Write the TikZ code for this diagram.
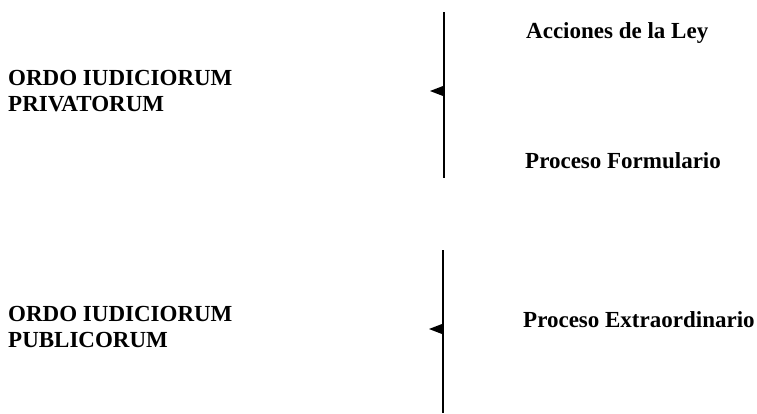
\documentclass[tikz,border=0pt]{standalone}
\usepackage{fontspec}
\setmainfont{Liberation Serif}
\begin{document}
\begin{tikzpicture}[x=1pt,y=-1pt,
  lbl/.style={font=\fontsize{23}{26}\selectfont\bfseries, inner sep=0pt, align=left},
  bar/.style={line width=2pt},
  tip/.style={fill=black}]
\useasboundingbox (0,0) rectangle (757,413);
\node[lbl,anchor=west] (priv) at (8,91) {ORDO IUDICIORUM\\PRIVATORUM};
\node[lbl,anchor=west] (pub) at (8,327) {ORDO IUDICIORUM\\PUBLICORUM};
\node[lbl,anchor=base west] (acc) at (526,38) {Acciones de la Ley};
\node[lbl,anchor=base west] (form) at (525,168) {Proceso Formulario};
\node[lbl,anchor=base west] (extra) at (523,327) {Proceso Extraordinario};
\coordinate (b1t) at (444,12);
\coordinate (b1b) at (444,178);
\coordinate (b1m) at (444,91);
\coordinate (b2t) at (443,250);
\coordinate (b2b) at (443,413);
\coordinate (b2m) at (443,329);
\draw[bar] (b1t) -- (b1b);
\draw[bar] (b2t) -- (b2b);
\fill[tip] (b1m) ++(-1,-5) -- ++(0,10) -- ++(-13,-5) -- cycle;
\fill[tip] (b2m) ++(-1,-5) -- ++(0,10) -- ++(-13,-5) -- cycle;
\end{tikzpicture}
\end{document}
